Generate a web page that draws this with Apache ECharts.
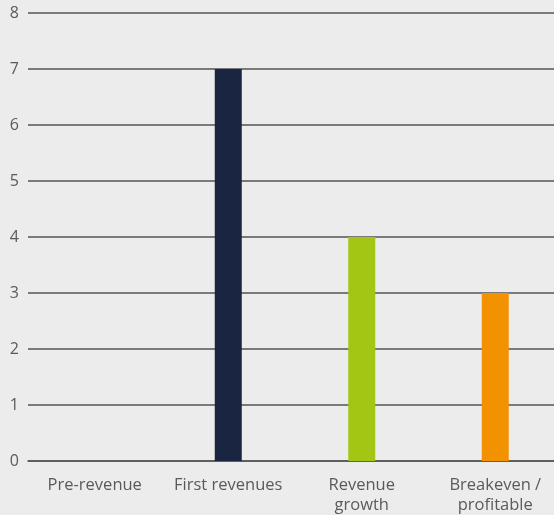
<!DOCTYPE html>
<html>
<head>
<meta charset="utf-8">
<script src="https://cdn.jsdelivr.net/npm/echarts@6/dist/echarts.min.js"></script>
<style>
  html, body { margin: 0; padding: 0; background: #ececec; overflow: hidden; }
  /* a bit wider than the window: the plot runs past the right edge, as in the reference */
  #chart { width: 562px; height: 515px; }
</style>
</head>
<body>
<div id="chart"></div>
<script>
// data
const categories = ['Pre-revenue', 'First revenues', 'Revenue\ngrowth', 'Breakeven /\nprofitable'];
const counts = [0, 7, 4, 3];
const barColors = ['#1a2542', '#1a2542', '#a3c614', '#f39200'];

const chart = echarts.init(document.getElementById('chart'));

const option = {
  backgroundColor: '#ececec',
  animation: false,
  textStyle: { fontFamily: 'Open Sans' },
  grid: { left: 28, right: 0, top: 13, bottom: 53 },
  xAxis: {
    type: 'category',
    data: categories,
    axisLine: { show: true, lineStyle: { color: '#555', width: 1.5 } },
    axisTick: { show: false },
    axisLabel: { color: '#5a5a5a', fontSize: 16.5, margin: 14, lineHeight: 20, interval: 0 }
  },
  yAxis: {
    type: 'value',
    min: 0,
    max: 8,
    interval: 1,
    axisLine: { show: false },
    axisTick: { show: false },
    axisLabel: { color: '#5a5a5a', fontSize: 16, margin: 9 },
    splitLine: { lineStyle: { color: '#555', width: 1.5 } }
  },
  series: [{
    type: 'bar',
    barWidth: 27,
    z: 1,
    data: counts.map((v, i) => ({ value: v, itemStyle: { color: barColors[i] } }))
  }]
};

chart.setOption(option);
</script>
</body>
</html>
